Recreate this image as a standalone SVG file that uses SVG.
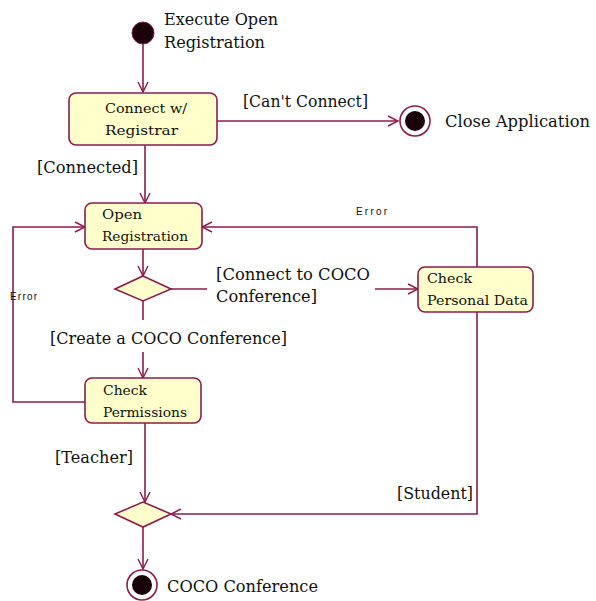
<svg xmlns="http://www.w3.org/2000/svg" width="596" height="601" viewBox="0 0 596 601">
<style>
.ln{fill:none;stroke:#8c1c4c;stroke-width:1.6}
.box{fill:#ffffcc;stroke:#8c1c4c;stroke-width:1.6}
.t,.bt{font-family:'DejaVu Serif','Liberation Serif',serif;fill:#111}
.t{font-size:16px}
.bt{font-size:13.5px}
.e{font-family:'Liberation Sans',Arial,sans-serif;font-size:10px;fill:#111}
</style>
<defs>
<marker id="arr" viewBox="0 0 12 12" refX="11" refY="6" markerWidth="12" markerHeight="12" markerUnits="userSpaceOnUse" orient="auto">
<path d="M1,1 L11,6 L1,11" fill="none" stroke="#8c1c4c" stroke-width="1.4"/>
</marker>
</defs>
<rect width="596" height="601" fill="#fff"/>
<g id="connectors">
<line class="ln" x1="143" y1="44" x2="143" y2="92" marker-end="url(#arr)"/>
<line class="ln" x1="217" y1="121" x2="398" y2="121" marker-end="url(#arr)"/>
<text class="t" x="243" y="107" textLength="125" lengthAdjust="spacingAndGlyphs">[Can't Connect]</text>
<line class="ln" x1="145" y1="145" x2="145" y2="203" marker-end="url(#arr)"/>
<text class="t" x="37" y="173" textLength="101" lengthAdjust="spacingAndGlyphs">[Connected]</text>
<line class="ln" x1="143" y1="249" x2="143" y2="276" marker-end="url(#arr)"/>
<line class="ln" x1="171" y1="289" x2="207" y2="289"/>
<text class="t" x="216" y="280" textLength="154" lengthAdjust="spacingAndGlyphs">[Connect to COCO</text>
<text class="t" x="216" y="302" textLength="101" lengthAdjust="spacingAndGlyphs">Conference]</text>
<line class="ln" x1="375" y1="289" x2="418" y2="289" marker-end="url(#arr)"/>
<polyline class="ln" points="477,267 477,227 202,227" marker-end="url(#arr)"/>
<text class="e" x="356" y="215" textLength="31" lengthAdjust="spacing">Error</text>
<line class="ln" x1="143" y1="301" x2="143" y2="320"/>
<text class="t" x="50" y="344" textLength="237" lengthAdjust="spacingAndGlyphs">[Create a COCO Conference]</text>
<line class="ln" x1="143" y1="352" x2="143" y2="378" marker-end="url(#arr)"/>
<polyline class="ln" points="85,402 13,402 13,227 85,227" marker-end="url(#arr)"/>
<text class="e" x="10" y="300" textLength="27" lengthAdjust="spacing">Error</text>
<line class="ln" x1="145" y1="423" x2="145" y2="502" marker-end="url(#arr)"/>
<text class="t" x="55" y="463" textLength="78" lengthAdjust="spacingAndGlyphs">[Teacher]</text>
<polyline class="ln" points="477,312 477,514 171,514" marker-end="url(#arr)"/>
<text class="t" x="397" y="499" textLength="76" lengthAdjust="spacingAndGlyphs">[Student]</text>
<line class="ln" x1="143" y1="527" x2="143" y2="569" marker-end="url(#arr)"/>
</g>
<g id="start">
<circle cx="143" cy="33" r="11" fill="#1a0008" stroke="#8c1c4c" stroke-width="1"/>
<text class="t" x="164" y="25" textLength="114" lengthAdjust="spacingAndGlyphs">Execute Open</text>
<text class="t" x="164" y="48" textLength="101" lengthAdjust="spacingAndGlyphs">Registration</text>
</g>
<g id="connect">
<rect class="box" x="69" y="93" width="148" height="52" rx="7"/>
<text class="bt" x="105" y="113" textLength="82" lengthAdjust="spacingAndGlyphs">Connect w/</text>
<text class="bt" x="105" y="135" textLength="73" lengthAdjust="spacingAndGlyphs">Registrar</text>
</g>
<g id="close">
<circle cx="415" cy="121" r="15" fill="#fff" stroke="#8c1c4c" stroke-width="1.6"/>
<circle cx="415" cy="121" r="10" fill="#1a0008"/>
<text class="t" x="445" y="127" textLength="145" lengthAdjust="spacingAndGlyphs">Close Application</text>
</g>
<g id="openreg">
<rect class="box" x="85" y="203" width="117" height="46" rx="7"/>
<text class="bt" x="102" y="219" textLength="40" lengthAdjust="spacingAndGlyphs">Open</text>
<text class="bt" x="102" y="241" textLength="86" lengthAdjust="spacingAndGlyphs">Registration</text>
</g>
<g id="decision1">
<polygon class="box" points="143,276 171,289 143,301 115,289"/>
</g>
<g id="checkpersonal">
<rect class="box" x="418" y="267" width="115" height="45" rx="7"/>
<text class="bt" x="427" y="283" textLength="45" lengthAdjust="spacingAndGlyphs">Check</text>
<text class="bt" x="427" y="305" textLength="101" lengthAdjust="spacingAndGlyphs">Personal Data</text>
</g>
<g id="checkperm">
<rect class="box" x="85" y="378" width="116" height="45" rx="7"/>
<text class="bt" x="103" y="395" textLength="44" lengthAdjust="spacingAndGlyphs">Check</text>
<text class="bt" x="103" y="417" textLength="84" lengthAdjust="spacingAndGlyphs">Permissions</text>
</g>
<g id="decision2">
<polygon class="box" points="143,502 171,514 143,527 115,514"/>
</g>
<g id="end">
<circle cx="142" cy="585" r="15" fill="#fff" stroke="#8c1c4c" stroke-width="1.6"/>
<circle cx="142" cy="585" r="10" fill="#1a0008"/>
<text class="t" x="167" y="592" textLength="151" lengthAdjust="spacingAndGlyphs">COCO Conference</text>
</g>
</svg>
